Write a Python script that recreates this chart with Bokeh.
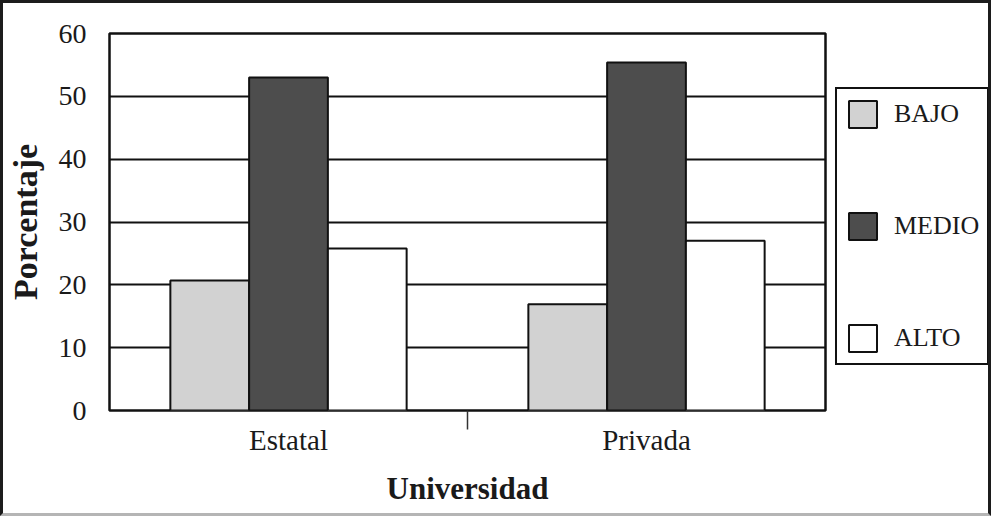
from bokeh.plotting import figure
from bokeh.layouts import row
from bokeh.models import (ColumnDataSource, Range1d, FixedTicker, Legend, LegendItem)
from bokeh.transform import dodge
from bokeh.embed import file_html
from bokeh.resources import INLINE

categories = ["Estatal", "Privada"]
levels = ["BAJO", "MEDIO", "ALTO"]
bajo = [20.7, 16.9]
medio = [53.0, 55.4]
alto = [25.8, 27.0]
y_ticks = [0, 10, 20, 30, 40, 50, 60]

colors = {"BAJO": "#d2d2d2", "MEDIO": "#4d4d4d", "ALTO": "#ffffff"}
FONT = "Liberation Serif"

xpos = [i + 0.5 for i in range(len(categories))]
source = ColumnDataSource(data=dict(x=xpos, cat=categories, BAJO=bajo, MEDIO=medio, ALTO=alto))

p = figure(width=830, height=510, output_backend="svg", toolbar_location=None,
           x_range=Range1d(0, len(categories)), y_range=Range1d(0, 60),
           min_border_left=101, min_border_right=8, min_border_top=30,
           min_border_bottom=103)

p.outline_line_color = "#111111"
p.outline_line_width = 2.5
p.outline_line_alpha = 1.0

bar_w = 0.22
offsets = {"BAJO": -0.22, "MEDIO": 0.0, "ALTO": 0.22}
for lv in levels:
    p.vbar(x=dodge("x", offsets[lv], range=p.x_range), top=lv, width=bar_w,
           source=source, fill_color=colors[lv], line_color="#111111", line_width=2)

# grid
p.xgrid.grid_line_color = None
p.ygrid.ticker = FixedTicker(ticks=y_ticks)
p.ygrid.grid_line_color = "#111111"
p.ygrid.grid_line_width = 2
p.ygrid.grid_line_alpha = 1.0

# y axis
p.yaxis.ticker = FixedTicker(ticks=y_ticks)
p.yaxis.axis_label = "Porcentaje"
p.yaxis.axis_label_text_font = FONT
p.yaxis.axis_label_text_font_style = "bold"
p.yaxis.axis_label_text_font_size = "34px"
p.yaxis.axis_label_text_color = "#1a1a1a"
p.yaxis.axis_label_standoff = 12
p.yaxis.major_label_text_font = FONT
p.yaxis.major_label_text_font_size = "28px"
p.yaxis.major_label_text_color = "#1a1a1a"
p.yaxis.major_label_standoff = 23
p.yaxis.major_tick_in = 0
p.yaxis.major_tick_out = 0
p.yaxis.minor_tick_in = 0
p.yaxis.minor_tick_out = 0
p.yaxis.axis_line_color = None

# x axis
p.xaxis.ticker = FixedTicker(ticks=xpos, minor_ticks=[1.0])
p.xaxis.major_label_overrides = {x: c for x, c in zip(xpos, categories)}
p.xaxis.axis_label = "Universidad"
p.xaxis.axis_label_text_font = FONT
p.xaxis.axis_label_text_font_style = "bold"
p.xaxis.axis_label_text_font_size = "31px"
p.xaxis.axis_label_text_color = "#1a1a1a"
p.xaxis.axis_label_standoff = 12
p.xaxis.major_label_text_font = FONT
p.xaxis.major_label_text_font_size = "29px"
p.xaxis.major_label_text_color = "#1a1a1a"
p.xaxis.major_label_standoff = -6
p.xaxis.major_tick_in = 0
p.xaxis.major_tick_out = 0
p.xaxis.minor_tick_in = 0
p.xaxis.minor_tick_out = 19
p.xaxis.minor_tick_line_color = "#333333"
p.xaxis.minor_tick_line_width = 1.5
p.xaxis.axis_line_color = None

# legend panel (separate figure holding the key)
pl = figure(width=155, height=510, output_backend="svg", toolbar_location=None,
            x_range=Range1d(0, 1), y_range=Range1d(0, 1),
            x_axis_location=None, y_axis_location=None,
            min_border_left=0, min_border_right=0, min_border_top=0, min_border_bottom=0)
pl.outline_line_color = None
pl.xgrid.grid_line_color = None
pl.ygrid.grid_line_color = None
key_renderers = {}
for lv in levels:
    key_renderers[lv] = pl.vbar(x="x", top=lv, width=bar_w, source=source,
                                fill_color=colors[lv], line_color="#111111", line_width=2,
                                visible=False)

legend = Legend(items=[LegendItem(label=lv, renderers=[key_renderers[lv]]) for lv in levels],
                location=(2, 45))
legend.label_text_font = FONT
legend.label_text_font_size = "26px"
legend.label_text_color = "#1a1a1a"
legend.glyph_width = 35
legend.glyph_height = 34
legend.label_height = 34
legend.label_standoff = 14
legend.padding = 8
legend.spacing = 78
legend.margin = 0
legend.inactive_fill_alpha = 0.0
legend.border_line_color = "#111111"
legend.border_line_width = 2.5
legend.border_line_alpha = 1.0
legend.background_fill_color = "white"
legend.background_fill_alpha = 1.0
pl.add_layout(legend, "center")

layout = row(p, pl)
layout.styles = {"border": "3px solid #1c1c1c", "border-bottom-color": "#b5b5b5"}

open("out.html", "w").write(file_html(layout, INLINE))
